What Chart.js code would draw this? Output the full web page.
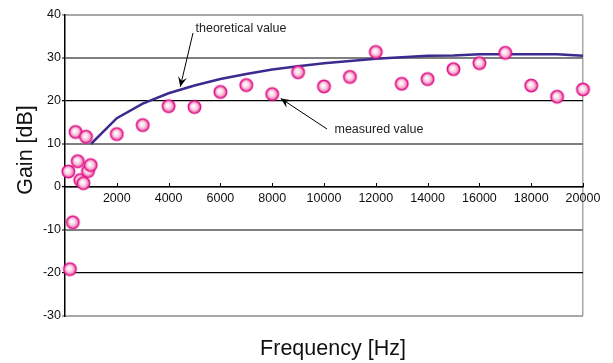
<!DOCTYPE html>
<html>
<head>
<meta charset="utf-8">
<script src="https://cdn.jsdelivr.net/npm/chart.js@4/dist/chart.umd.min.js"></script>
<style>
html,body{margin:0;padding:0;background:#fff;}
#wrap{width:613px;height:363px;position:relative;}
</style>
</head>
<body>
<div id="wrap"><canvas id="c" width="613" height="363"></canvas></div>
<script>
// ---- data ----
const measuredFreq = [130, 190, 300, 410, 490, 590, 710, 810, 890, 990, 2000, 3000, 4000, 5000, 6000, 7000, 8000, 9000, 10000, 11000, 12000, 13000, 14000, 15000, 16000, 17000, 18000, 19000, 20000];
const measuredGain = [3.6, -19.1, -8.2, 12.8, 6.0, 1.6, 0.9, 11.7, 3.7, 5.1, 12.3, 14.4, 18.8, 18.6, 22.1, 23.7, 21.6, 26.7, 23.4, 25.6, 31.4, 24.0, 25.1, 27.4, 28.8, 31.2, 23.6, 21.0, 22.7];
const theoryFreq = [1000, 2000, 3000, 4000, 5000, 6000, 7000, 8000, 9000, 10000, 11000, 12000, 13000, 14000, 15000, 16000, 17000, 18000, 19000, 20000];
const theoryGain = [10.0, 16.0, 19.4, 21.8, 23.6, 25.1, 26.3, 27.3, 28.1, 28.8, 29.3, 29.8, 30.2, 30.5, 30.6, 30.9, 30.9, 30.9, 30.9, 30.5];
const xTicks = [2000, 4000, 6000, 8000, 10000, 12000, 14000, 16000, 18000, 20000];
const yTicks = [-30, -20, -10, 0, 10, 20, 30, 40];
const xTitle = 'Frequency [Hz]';
const yTitle = 'Gain [dB]';
const theoryLabel = 'theoretical value';
const measuredLabel = 'measured value';

// ---- point sprite ----
function makeBall(r) {
  const s = Math.ceil(r * 2 + 4);
  const cv = document.createElement('canvas');
  cv.width = s; cv.height = s;
  const g = cv.getContext('2d');
  const c = s / 2;
  const grad = g.createRadialGradient(c - 1, c - 1, 0.5, c, c, r);
  grad.addColorStop(0, '#ffffff');
  grad.addColorStop(0.45, '#fbd3e6');
  grad.addColorStop(1, '#ee5fa4');
  g.beginPath();
  g.arc(c, c, r, 0, Math.PI * 2);
  g.fillStyle = grad;
  g.fill();
  g.lineWidth = 1.6;
  g.strokeStyle = '#e0148a';
  g.stroke();
  return cv;
}
const ball = makeBall(6.2);

const FONT = '"Liberation Sans", Arial, sans-serif';

function arrow(ctx, x1, y1, x2, y2) {
  ctx.save();
  ctx.strokeStyle = '#000';
  ctx.fillStyle = '#000';
  ctx.lineWidth = 1;
  ctx.beginPath();
  ctx.moveTo(x1, y1);
  ctx.lineTo(x2, y2);
  ctx.stroke();
  const a = Math.atan2(y2 - y1, x2 - x1);
  const L = 10, W = 4.5;
  ctx.beginPath();
  ctx.moveTo(x2, y2);
  ctx.lineTo(x2 - L * Math.cos(a) + W * Math.sin(a), y2 - L * Math.sin(a) - W * Math.cos(a));
  ctx.lineTo(x2 - 0.6 * L * Math.cos(a), y2 - 0.6 * L * Math.sin(a));
  ctx.lineTo(x2 - L * Math.cos(a) - W * Math.sin(a), y2 - L * Math.sin(a) + W * Math.cos(a));
  ctx.closePath();
  ctx.fill();
  ctx.restore();
}

const decor = {
  id: 'decor',
  afterDraw(chart) {
    const ctx = chart.ctx;
    const xs = chart.scales.x, ys = chart.scales.y;
    const ca = chart.chartArea;
    ctx.save();
    // upward x tick marks on the zero line
    const y0 = ys.getPixelForValue(0);
    ctx.strokeStyle = '#000';
    ctx.lineWidth = 1;
    xTicks.forEach(v => {
      const px = Math.round(xs.getPixelForValue(v)) + 0.5;
      ctx.beginPath();
      ctx.moveTo(px, y0);
      ctx.lineTo(px, y0 - 4);
      ctx.stroke();
    });
    // axis titles
    ctx.fillStyle = '#111';
    ctx.font = '21.5px ' + FONT;
    ctx.textAlign = 'center';
    ctx.textBaseline = 'middle';
    ctx.fillText(xTitle, (ca.left + ca.right) / 2 + 9, 349);
    ctx.save();
    ctx.translate(26, 150);
    ctx.rotate(-Math.PI / 2);
    ctx.fillText(yTitle, 0, 0);
    ctx.restore();
    // annotations
    ctx.font = '12.5px ' + FONT;
    ctx.textAlign = 'left';
    ctx.fillStyle = '#222';
    ctx.fillText(theoryLabel, 195.5, 29);
    ctx.fillText(measuredLabel, 334.5, 130);
    arrow(ctx, 193, 33, xs.getPixelForValue(4450), ys.getPixelForValue(23.3));
    arrow(ctx, 327, 129, xs.getPixelForValue(8330), ys.getPixelForValue(20.6));
    ctx.restore();
  }
};

new Chart(document.getElementById('c'), {
  type: 'scatter',
  data: {
    datasets: [
      {
        label: theoryLabel,
        data: theoryFreq.map((f, i) => ({x: f, y: theoryGain[i]})),
        showLine: true,
        borderColor: '#3d2a8e',
        borderWidth: 2.5,
        pointRadius: 0,
        tension: 0,
        fill: false,
        order: 2
      },
      {
        label: measuredLabel,
        data: measuredFreq.map((f, i) => ({x: f, y: measuredGain[i]})),
        showLine: false,
        pointStyle: ball,
        pointRadius: 6,
        clip: false,
        order: 1
      }
    ]
  },
  options: {
    responsive: false,
    animation: false,
    devicePixelRatio: 1,
    layout: { padding: { left: 0, top: 15, right: 30, bottom: 47 } },
    plugins: {
      legend: { display: false },
      tooltip: { enabled: false },
      title: { display: false }
    },
    scales: {
      x: {
        type: 'linear',
        position: { y: 0 },
        min: 0,
        max: 20000,
        afterBuildTicks(s) { s.ticks = [0].concat(xTicks).map(v => ({value: v})); },
        ticks: {
          color: '#111',
          font: { family: FONT, size: 12.5 },
          padding: 4,
          maxRotation: 0,
          autoSkip: false,
          callback: (v) => v === 0 ? '' : String(v)
        },
        grid: {
          drawTicks: false,
          drawOnChartArea: true,
          color: (c) => c.tick && c.tick.value === 20000 ? '#a8a8a8' : 'rgba(0,0,0,0)',
          lineWidth: 1.5
        },
        border: { display: true, color: '#000', width: 1.5 }
      },
      y: {
        type: 'linear',
        min: -30,
        max: 40,
        afterBuildTicks(s) { s.ticks = yTicks.map(v => ({value: v})); },
        afterFit(s) { s.width = 65; },
        ticks: {
          color: '#111',
          font: { family: FONT, size: 12.5 },
          padding: 1,
          autoSkip: false
        },
        grid: {
          tickLength: 3,
          color: (c) => {
            const v = c.tick ? c.tick.value : null;
            if (v === 20 || v === 0 || v === -20) return '#000';
            if (v === 40 || v === -30) return '#a8a8a8';
            return '#7f7f7f';
          },
          lineWidth: (c) => {
            const v = c.tick ? c.tick.value : null;
            if (v === 20 || v === -20 || v === 0) return 1.3;
            return 2;
          }
        },
        border: { display: true, color: '#000', width: 1.5 }
      }
    }
  },
  plugins: [decor]
});
</script>
</body>
</html>
